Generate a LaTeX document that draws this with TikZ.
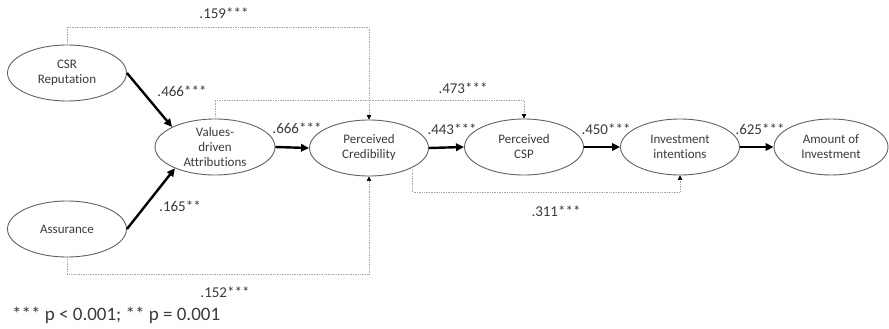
\documentclass[tikz,border=0pt]{standalone}
\usepackage{fontspec}
\setmainfont[Ligatures=NoCommon]{Carlito}
\usetikzlibrary{arrows.meta,shapes.geometric,calc}
\definecolor{txt}{HTML}{3A3A3A}
\definecolor{edge}{HTML}{606060}
\definecolor{dotc}{HTML}{A8A8A8}
\begin{document}
\begin{tikzpicture}[x=1pt,y=-1pt,
  var/.style={ellipse,draw=edge,line width=0.9pt,minimum width=119pt,minimum height=56pt,inner sep=0pt,align=center,font=\fontsize{13}{15}\selectfont,text=txt},
  path/.style={line width=2.4pt,-{Triangle[length=8pt,width=7.5pt]}},
  indir/.style={dotc,densely dotted,line width=0.7pt,-{Triangle[length=4.5pt,width=4.5pt,color=black]}},
  coef/.style={font=\fontsize{15}{17}\selectfont,text=txt,inner sep=0pt}]
\useasboundingbox (0,0) rectangle (889,329);
\node[var] (csr) at (67,73) {CSR\\Reputation};
\node[var] (ass) at (67,229) {Assurance};
\node[var,minimum width=120pt] (vda) at (215,147) {Values-\\driven\\Attributions};
\node[var] (pc) at (369,148) {Perceived\\Credibility};
\node[var] (csp) at (524,147) {Perceived\\CSP};
\node[var] (ii) at (680,147) {Investment\\intentions};
\node[var,minimum width=114pt] (aoi) at (831,147) {Amount of\\Investment};

\draw[path] (csr.east) -- (vda.155);
\draw[path] (ass.east) -- (vda.208);
\draw[path] (vda.east) -- (pc.west);
\draw[path] (pc.east) -- (csp.west);
\draw[path] (csp.east) -- (ii.west);
\draw[path] (ii.east) -- (aoi.west);

\draw[indir] (csr.north) -- (csr.north |- 0,27) -| (pc.north);
\draw[indir] (vda.north) -- (vda.north |- 0,100) -| (csp.north);
\draw[indir] (ass.south) -- (ass.south |- 0,274) -| (pc.south);
\coordinate (pcb) at (pc.-24);
\draw[indir] (pcb) -- (pcb |- 0,192) -| (ii.south);

\node[coef] (c1) at (224,13) {.159***};
\node[coef] (c2) at (182,91) {.466***};
\node[coef] (c3) at (463,88) {.473***};
\node[coef] (c4) at (297,128) {.666***};
\node[coef] (c5) at (452,129) {.443***};
\node[coef] (c6) at (606,129) {.450***};
\node[coef] (c7) at (760,129) {.625***};
\node[coef] (c8) at (180,206) {.165**};
\node[coef] (c9) at (225,292) {.152***};
\node[coef] (c10) at (556,211) {.311***};
\node[font=\fontsize{19}{21}\selectfont,text=txt,inner sep=0pt,anchor=west] (note) at (12,315) {*** p < 0.001; ** p = 0.001};
\end{tikzpicture}
\end{document}
